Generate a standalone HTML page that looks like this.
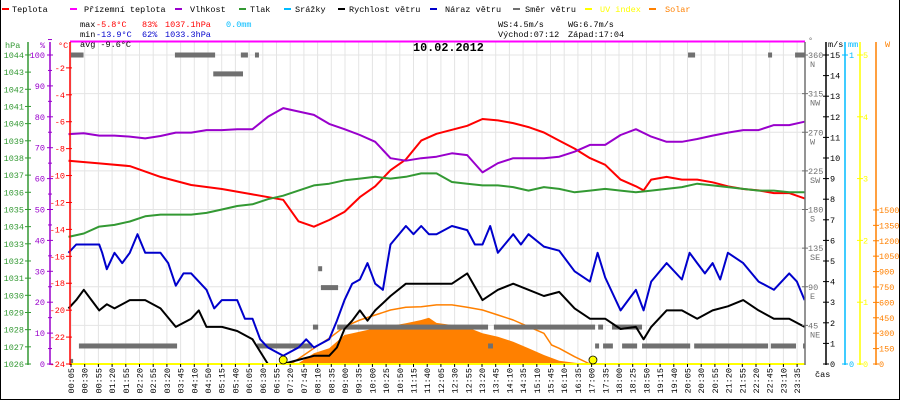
<!DOCTYPE html>
<html><head><meta charset="utf-8">
<style>
html,body{margin:0;padding:0;background:#fff;}
body{width:900px;height:400px;overflow:hidden;}
svg text{font-family:"Liberation Mono","DejaVu Sans Mono",monospace;font-size:8.5px;}
</style></head>
<body>
<svg id="chart" xmlns="http://www.w3.org/2000/svg" width="900" height="400" viewBox="0 0 900 400">
<rect x="0.5" y="-1" width="899" height="400.5" fill="#fff" stroke="#000" stroke-width="1"/>
<g id="grid"></g>
<g id="marks"></g>
<g id="axes"></g>
<g>
 <g><rect x="2" y="8" width="7" height="2" fill="#f00"/><text x="12" y="12" fill="#000">Teplota</text></g>
 <g><rect x="70" y="8" width="7" height="2" fill="#f0f"/><text x="84" y="12" fill="#000">Přízemní teplota</text></g>
 <g><rect x="175" y="8" width="7" height="2" fill="#90c"/><text x="190" y="12" fill="#000">Vlhkost</text></g>
 <g><rect x="239" y="8" width="7" height="2" fill="#393"/><text x="250" y="12" fill="#000">Tlak</text></g>
 <g><rect x="284" y="8" width="7" height="2" fill="#0bf"/><text x="295" y="12" fill="#000">Srážky</text></g>
 <g><rect x="338" y="8" width="7" height="2" fill="#000"/><text x="349" y="12" fill="#000">Rychlost větru</text></g>
 <g><rect x="430" y="8" width="7" height="2" fill="#00c"/><text x="445" y="12" fill="#000">Náraz větru</text></g>
 <g><rect x="513" y="8" width="7" height="2" fill="#707070"/><text x="525" y="12" fill="#000">Směr větru</text></g>
 <g><rect x="585" y="8" width="7" height="2" fill="#ff0"/><text x="600" y="12" fill="#ff0">UV index</text></g>
 <g><rect x="649" y="8" width="7" height="2" fill="#ff8000"/><text x="665" y="12" fill="#ff8000">Solar</text></g>
</g>
<g>
 <text x="80" y="27" fill="#000">max</text><text x="96" y="27" fill="#f00">-5.8°C</text><text x="142" y="27" fill="#f00">83%</text><text x="165" y="27" fill="#f00">1037.1hPa</text><text x="226" y="27" fill="#0bf">0.0mm</text>
 <text x="80" y="37" fill="#000">min</text><text x="96" y="37" fill="#00c">-13.9°C</text><text x="142" y="37" fill="#00c">62%</text><text x="165" y="37" fill="#00c">1033.3hPa</text>
 <text x="80" y="47" fill="#000">avg -9.6°C</text>
 <text x="498" y="27" fill="#000">WS:4.5m/s</text><text x="568" y="27" fill="#000">WG:6.7m/s</text>
 <text x="498" y="37" fill="#000">Východ:07:12</text><text x="568" y="37" fill="#000">Západ:17:04</text>
</g>
<text x="413" y="51" style="font-size:11.8px;font-weight:bold" fill="#000">10.02.2012</text>
</svg>
<script>
const tempT=[0,1,2,3,4,5,6,7,7.5,8,8.5,9,9.5,10,10.5,11,11.5,12,12.5,13,13.5,14,14.5,15,15.5,16,16.5,17,17.5,18,18.5,18.75,19,19.5,20,20.5,21,21.5,22,22.5,23,23.5,24];
const tempV=[-8.9,-9.1,-9.3,-10.1,-10.7,-11.0,-11.4,-11.8,-13.4,-13.8,-13.3,-12.7,-11.6,-10.8,-9.6,-8.8,-7.4,-6.9,-6.6,-6.3,-5.8,-5.9,-6.1,-6.4,-6.8,-7.4,-8.0,-8.7,-9.2,-10.3,-10.8,-11.1,-10.3,-10.1,-10.3,-10.3,-10.5,-10.8,-11.0,-11.1,-11.3,-11.3,-11.7];
const rhV=[74.4,74.7,73.9,73.9,73.6,73.0,73.8,74.9,74.9,75.7,75.7,76.0,76.0,80.0,82.8,81.7,80.6,77.7,76.0,74.1,71.9,66.6,65.8,66.6,67.1,68.2,67.6,62.0,65.0,66.6,66.6,66.6,67.1,68.7,70.9,70.9,74.1,76.0,73.6,71.9,71.9,72.8,73.9,74.9,75.7,75.7,77.3,77.3,78.4];
const pressV=[1033.4,1033.6,1034.0,1034.1,1034.3,1034.6,1034.7,1034.7,1034.7,1034.8,1035.0,1035.2,1035.3,1035.6,1035.8,1036.1,1036.4,1036.5,1036.7,1036.8,1036.9,1036.8,1036.9,1037.1,1037.1,1036.6,1036.5,1036.4,1036.4,1036.3,1036.1,1036.3,1036.2,1036.0,1036.1,1036.2,1036.1,1036.0,1036.1,1036.2,1036.3,1036.5,1036.4,1036.3,1036.2,1036.1,1036.1,1036.0,1036.0];
const windT=[0,0.25,0.5,0.75,1,1.25,1.5,2,2.5,3,3.5,4,4.25,4.5,5,5.5,6,6.5,7,7.5,8,8.5,8.75,9,9.25,9.5,9.75,10,10.5,11,11.5,12,12.5,13,13.5,14,14.5,15,15.5,16,16.5,17,17.5,18,18.5,18.75,19,19.5,20,20.5,21,21.5,22,22.5,23,23.5,24];
const windV=[2.7,3.1,3.6,3.1,2.6,2.9,2.7,3.1,3.1,2.7,1.8,2.2,2.6,1.8,1.8,1.6,1.2,0.0,0,0.2,0.4,0.4,0.8,1.7,2.1,2.6,2.1,2.6,3.3,3.9,3.9,3.9,3.9,4.4,3.1,3.6,3.9,3.6,3.3,3.5,2.7,2.2,2.2,1.7,1.8,1.2,1.8,2.6,2.6,2.2,2.6,2.8,3.1,2.6,2.2,2.2,1.8];
const gustT=[0,0.25,1,1.1,1.25,1.5,1.75,2,2.25,2.5,3,3.25,3.5,3.75,4,4.5,4.75,5,5.5,5.75,6,6.25,6.5,7,7.5,7.75,8,8.5,8.75,9,9.25,9.5,9.75,10,10.25,10.5,11,11.25,11.5,11.75,12,12.5,13,13.25,13.5,13.75,14,14.5,14.75,15,15.5,16,16.5,17,17.25,17.5,18,18.25,18.5,18.75,19,19.5,20,20.25,20.5,20.75,21,21.25,21.5,22,22.5,23,23.5,23.75,24];
const gustV=[5.4,5.8,5.8,5.4,4.6,5.4,4.9,5.4,6.3,5.4,5.4,4.9,3.8,4.4,4.4,3.6,2.7,3.1,3.1,2.2,2.2,1.2,0.8,0.4,0.8,1.2,0.8,1.2,2.1,3.1,3.9,4.1,4.9,3.9,3.6,5.8,6.7,6.3,6.7,6.3,6.3,6.7,6.5,5.8,5.8,6.7,5.4,6.3,5.8,6.3,5.7,5.5,4.5,4.0,5.4,4.2,2.6,3.1,3.6,2.6,4.0,4.9,4.1,5.4,4.9,4.4,4.9,4.1,5.4,4.9,4.0,3.6,4.4,4.0,3.1];
const solarT=[7.25,7.5,8,8.5,9,9.5,10,10.5,11,11.5,11.75,12,12.5,13,13.5,14,14.5,15,15.5,16,16.5,17];
const solarW=[0,7,104,153,282,315,348,370,396,428,451,400,380,357,299,266,217,153,88,32,13,0];
const solarMaxT=[7.25,8,8.5,9,9.5,10,10.5,11,11.5,12,12.5,13,13.5,14,14.5,15,15.5,15.75,16,16.5,17];
const solarMaxW=[0,153,250,363,428,477,526,552,558,575,575,552,526,477,428,363,299,185,153,71,0];
const dirStart=[0.08,4.72,3.47,5.62,6.08,20.2,22.81,23.69,8.14,8.23,7.97,8.76,13.87,17.27,17.72,0.34,6.15,13.68,17.17,17.43,18.05,18.7,20.4,22.9,23.95,0.05];
const dirEnd=[0.49,5.69,4.78,5.85,6.21,20.43,22.94,24,8.27,8.79,8.14,13.68,17.17,17.43,18.7,3.54,7.94,13.84,17.3,17.75,18.54,20.27,22.81,23.72,24,0.15];
const dirDeg=[360,338,360,360,360,360,360,360,111,89,43,43,43,43,43,21,21,21,21,21,21,21,21,21,21,3];
const sunT=[7.0,17.1];
const timeLabels=["00:05","00:30","00:55","01:20","01:55","02:20","02:55","03:20","03:45","04:10","04:50","05:15","05:40","06:05","06:30","06:55","07:20","07:45","08:10","08:35","09:00","09:35","10:00","10:25","10:50","11:15","11:40","12:05","12:30","12:55","13:20","13:45","14:10","14:35","15:10","15:45","16:10","16:35","17:00","17:35","18:00","18:25","18:50","19:15","19:40","20:05","20:30","20:55","21:20","21:55","22:20","22:45","23:10","23:35"];
const hpaTicks=[1026,1027,1028,1029,1030,1031,1032,1033,1034,1035,1036,1037,1038,1039,1040,1041,1042,1043,1044];
const rhTicks=[0,10,20,30,40,50,60,70,80,90,100];
const tempTicks=[-24,-22,-20,-18,-16,-14,-12,-10,-8,-6,-4,-2];
const dirTicks=[45,90,135,180,225,270,315,360];
const dirNames=["NE","E","SE","S","SW","W","NW","N"];
const msTicks=[0,1,2,3,4,5,6,7,8,9,10,11,12,13,14,15];
const uvTicks=[0,1,2,3,4,5];
const wTicks=[0,150,300,450,600,750,900,1050,1200,1350,1500];

const NS="http://www.w3.org/2000/svg";
const PT=42,PB=364,PL=70,PR=805;
const xT=h=>68.5+30.67*h;
const yTemp=t=>PB-(t+24)*13.46;
const yRH=r=>PB-r*3.09;
const yP=p=>PB-(p-1026)*17.17;
const yV=v=>PB-v*20.6;
const yDir=d=>PB-d*0.8583;
const yUV=u=>PB-u*61.8;
const yW=w=>PB-w*0.1027;
const xLab=i=>71+i*13.7;

function mk(tag,attrs,parent){const e=document.createElementNS(NS,tag);for(const k in attrs)e.setAttribute(k,attrs[k]);parent.appendChild(e);return e;}
const grid=document.getElementById('grid'),marks=document.getElementById('marks'),axes=document.getElementById('axes');

// grid
timeLabels.forEach((l,i)=>{const g=mk('line',{x1:xLab(i),x2:xLab(i),y1:PT,y2:PB,stroke:'#e4e4e4','stroke-width':1},grid);

});
dirTicks.forEach(d=>{const g=mk('line',{x1:PL,x2:PR,y1:yDir(d),y2:yDir(d),stroke:'#e4e4e4','stroke-width':1},grid);

});

function poly(ts,vs,yf,color,w,name){const pts=ts.map((t,i)=>xT(t).toFixed(1)+','+yf(vs[i]).toFixed(1)).join(' ');
const p=mk('polyline',{points:pts,fill:'none',stroke:color,'stroke-width':w,'stroke-linejoin':'round'},marks);

return p;}

// solar fill
{const pts=solarT.map((t,i)=>xT(t).toFixed(1)+','+yW(solarW[i]).toFixed(1));
pts.push(xT(solarT[solarT.length-1]).toFixed(1)+','+PB);pts.unshift(xT(solarT[0]).toFixed(1)+','+PB);
const p=mk('polygon',{points:pts.join(' '),fill:'#ff8000'},marks);

}
poly(solarMaxT,solarMaxW,yW,'#ff8000',1.5,'solar-max-line');

// wind direction bars
dirDeg.forEach((d,i)=>{const y=yDir(d);const r=mk('rect',{x:xT(dirStart[i]),y:y-2.5,width:Math.max(2,xT(dirEnd[i])-xT(dirStart[i])),height:5,fill:'#707070'},marks);

});

poly(tempT,tempV,yTemp,'#ff0000',2,'temperature-line');
const halfT=rhV.map((v,i)=>i*0.5);
poly(halfT,rhV,yRH,'#9900cc',2,'humidity-line');
poly(halfT,pressV,yP,'#339933',2,'pressure-line');
poly(gustT,gustV,yV,'#0000cc',2,'wind-gust-line');
poly(windT,windV,yV,'#000000',2,'wind-speed-line');

// ground temp at top + UV line at bottom
{const l=mk('line',{x1:PL,x2:PR,y1:41.5,y2:41.5,stroke:'#ff00ff','stroke-width':2},marks);


const u=mk('line',{x1:PL,x2:PR,y1:PB,y2:PB,stroke:'#ffff00','stroke-width':2},marks);

}
sunT.forEach(t=>{const c=mk('circle',{cx:xT(t),cy:360,r:4,fill:'#ffff00',stroke:'#000','stroke-width':0.8},marks);

});

// axes
function vline(x,color,name,y1){const l=mk('line',{x1:x,x2:x,y1:y1||PT,y2:PB+1,stroke:color,'stroke-width':1.5},axes);

}
function label(x,y,txt,color,anchor,name){const t=mk('text',{x:x,y:y,fill:color,'text-anchor':anchor||'start'},axes);t.textContent=txt;

return t;}
function tick(x1,x2,y,color){const l=mk('line',{x1:x1,x2:x2,y1:y,y2:y,stroke:color,'stroke-width':1},axes);

}

vline(28,'#339933','pressure-axis');vline(50,'#9900cc','humidity-axis');vline(PL,'#ff0000','temperature-axis');
vline(PR,'#707070','wind-direction-axis');vline(826,'#000','wind-speed-axis');vline(845,'#00bbff','rain-axis');vline(860,'#ffff00','uv-axis');vline(876,'#ff8000','solar-axis');
hpaTicks.forEach(p=>{tick(25,31,yP(p),'#339933');label(24,yP(p)+3,String(p),'#339933','end','pressure-tick-label');});
rhTicks.forEach(r=>{tick(47,53,yRH(r),'#9900cc');tick(48,52,yRH(r+5),'#9900cc');label(45,yRH(r)+3,String(r),'#9900cc','end','humidity-tick-label');});
tempTicks.forEach(t=>{tick(66,72,yTemp(t),'#ff0000');label(65,yTemp(t)+3,String(t),'#ff0000','end','temperature-tick-label');});
dirTicks.forEach((d,i)=>{tick(802,808,yDir(d),'#707070');label(808,yDir(d)+3,String(d),'#707070','start','wind-direction-tick-label');label(810,yDir(d)+12,dirNames[i],'#707070','start','wind-direction-name');});
msTicks.forEach(v=>{tick(823,829,yV(v),'#000');label(830,yV(v)+3,String(v),'#000','start','wind-speed-tick-label');});
[0,1].forEach(v=>{tick(842,848,yUV(v*5),'#00bbff');label(849,yUV(v*5)+3,String(v),'#00bbff','start','rain-tick-label');});
uvTicks.forEach(v=>{tick(857,863,yUV(v),'#ffff00');label(863,yUV(v)+3,String(v),'#ffff00','start','uv-tick-label');});
wTicks.forEach(v=>{tick(873,879,yW(v),'#ff8000');label(879,yW(v)+3,String(v),'#ff8000','start','solar-tick-label');});
label(5,48,'hPa','#339933','start','pressure-axis-title');label(40,48,'%','#9900cc','start','humidity-axis-title');label(58,48,'°C','#ff0000','start','temperature-axis-title');
label(808,43,'°','#707070','start','wind-direction-axis-title');label(828,47,'m/s','#000','start','wind-speed-axis-title');label(848,47,'mm','#00bbff','start','rain-axis-title');label(885,47,'W','#ff8000','start','solar-axis-title');
label(815,377,'čas','#000','start','x-axis-title');
timeLabels.forEach((l,i)=>{const x=xLab(i);tick(0,0,0,'none');
const tk=mk('line',{x1:x,x2:x,y1:PB,y2:PB+3,stroke:'#000','stroke-width':1},axes);


const t=mk('text',{x:0,y:0,fill:'#000','text-anchor':'end',transform:`translate(${x+3},368) rotate(-90)`},axes);t.textContent=l;

});
</script>
</body></html>
